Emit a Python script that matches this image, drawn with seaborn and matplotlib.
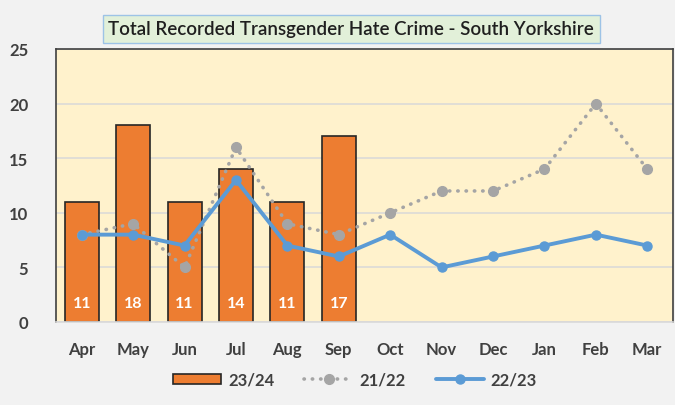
import matplotlib
matplotlib.use("Agg")
import matplotlib.pyplot as plt
from matplotlib.patches import Patch
from matplotlib.lines import Line2D
import seaborn as sns
import pandas as pd
import numpy as np

months = ["Apr", "May", "Jun", "Jul", "Aug", "Sep", "Oct", "Nov", "Dec", "Jan", "Feb", "Mar"]
crime_2324 = [11, 18, 11, 14, 11, 17, np.nan, np.nan, np.nan, np.nan, np.nan, np.nan]
crime_2122 = [8, 9, 5, 16, 9, 8, 10, 12, 12, 14, 20, 14]
crime_2223 = [8, 8, 7, 13, 7, 6, 8, 5, 6, 7, 8, 7]

orange = "#ED7D31"
grey = "#A5A5A5"
blue = "#5B9BD5"
text_col = "#404040"
dots = (0, (0.1, 2.2))

sns.set_theme(style="white")
plt.rcParams["font.family"] = ["Lato", "DejaVu Sans"]

df = pd.DataFrame({"month": months, "v2324": crime_2324,
                   "v2122": crime_2122, "v2223": crime_2223})
df["pos"] = np.arange(len(months))

fig = plt.figure(figsize=(6.75, 4.06), dpi=100)
fig.patch.set_facecolor("#F2F2F2")
ax = fig.add_axes([56 / 675, 1 - 323 / 406, 617 / 675, 273 / 406])
ax.set_facecolor("#FFF2CC")

sns.barplot(data=df, x="month", y="v2324", order=months, color=orange,
            width=0.66, edgecolor="#262626", linewidth=1.2, saturation=1,
            ax=ax, zorder=2)

ax.plot(df["pos"], df["v2122"], color=grey, lw=2.6, linestyle=dots,
        dash_capstyle="round", marker="o", markersize=7, zorder=3)
ax.plot(df["pos"], df["v2223"], color=blue, lw=2.8, marker="o",
        markersize=6.5, zorder=4)

for i, v in enumerate(crime_2324):
    if not np.isnan(v):
        ax.text(i, 1.75, f"{int(v)}", ha="center", va="center", color="white",
                fontsize=11.5, fontweight="bold", zorder=5)

ax.set_xlim(-0.5, 11.5)
ax.set_ylim(0, 25)
ax.set_yticks([0, 5, 10, 15, 20, 25])
ax.yaxis.grid(True, color="#D9D9D9", lw=1.1)
ax.set_axisbelow(True)
ax.set_xlabel("")
ax.set_ylabel("")
ax.tick_params(axis="both", length=0, labelsize=12, labelcolor=text_col)
ax.tick_params(axis="x", pad=14)
ax.tick_params(axis="y", pad=20)
for lab in ax.get_xticklabels() + ax.get_yticklabels():
    lab.set_fontweight("bold")
for s in ["left", "top", "right"]:
    ax.spines[s].set_color("#404040")
    ax.spines[s].set_linewidth(1.2)
ax.spines["bottom"].set_color("#D9D9D9")
ax.spines["bottom"].set_linewidth(1.2)

fig.text(351 / 675, 1 - 30 / 406, "Total Recorded Transgender Hate Crime - South Yorkshire",
         ha="center", va="center", fontsize=13.5, color="#1F1F1F", fontweight="semibold",
         bbox=dict(boxstyle="square,pad=0.3", facecolor="#E2F0D9", edgecolor="#9DC3E6", lw=1))

handles = [
    Patch(facecolor=orange, edgecolor="#262626", lw=1.2),
    Line2D([], [], color=grey, lw=2.6, linestyle=dots, dash_capstyle="round",
           marker="o", markersize=7),
    Line2D([], [], color=blue, lw=2.8, marker="o", markersize=6.5),
]
fig.legend(handles, ["23/24", "21/22", "22/23"], loc="center", ncol=3,
           bbox_to_anchor=(355 / 675, 1 - 381 / 406), frameon=False,
           prop={"size": 12, "weight": "bold"}, labelcolor=text_col,
           handlelength=2.9, handleheight=0.6, handletextpad=0.4, columnspacing=1.8)

fig.savefig("out.png", dpi=100, facecolor=fig.get_facecolor())
